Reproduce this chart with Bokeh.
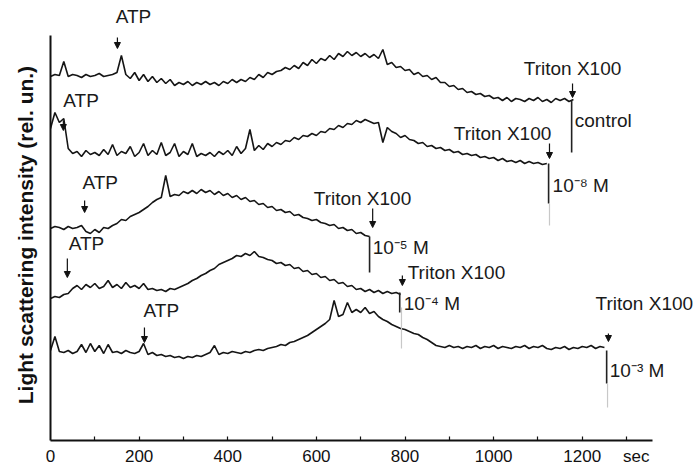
from bokeh.plotting import figure
from bokeh.models import Range1d, FixedTicker, Arrow, NormalHead, ColumnDataSource
from bokeh.embed import file_html
from bokeh.resources import INLINE
from bokeh.core.properties import value

FONT = "Liberation Sans"
sample_step = 10  # seconds between samples

# ---- traces (relative light-scattering units), sampled every 10 s from t = 0 ----
y_control = [364, 366, 365, 379, 364, 366, 365, 363, 366, 364, 365, 367, 364, 365, 366, 368,
             385,
             366, 362, 368, 360, 366, 359, 364, 358, 362, 357, 361, 355, 358, 356, 359, 355, 358, 356,
             359, 356, 358, 355, 359, 357, 361, 358, 361, 359, 363,
             361, 366, 363, 368, 366, 369, 370, 373, 371, 375, 372, 378, 375, 381, 377, 382, 380, 385, 381,
             387, 384, 389, 385, 388, 384, 387, 383, 386, 382, 391,
             376, 378, 373, 374, 370, 371, 366, 368, 364, 365, 361, 363, 358, 358, 354, 355, 351, 352, 348,
             349, 346, 347, 344, 345, 342, 343, 340, 343, 339, 342, 341, 339, 342, 340, 343, 339, 341, 338,
             342, 340, 342, 339, 341]
y_1e8 = [312, 328, 318, 322, 292, 287, 289, 284, 290, 286, 288, 285, 291, 286, 296, 285, 289, 287, 294, 284,
         288, 297, 285, 290, 286, 298, 285, 288, 297, 284, 289, 286, 297, 284, 287, 285, 288, 284, 289, 286,
         290, 285, 294, 287, 292, 311, 290, 295, 291, 297, 294, 298, 296, 300, 299, 303, 301, 305, 304, 307,
         305, 309, 308, 312, 311, 315, 313, 317, 316, 320, 318, 321, 319, 317, 318, 298, 313, 309, 307, 303,
         305, 301, 300, 297, 298, 294, 295, 292, 293, 290, 291, 288, 289, 286, 287, 285, 286, 283, 284, 282,
         283, 280, 282, 279, 280, 278, 280, 277, 279, 277, 278, 276, 277]
y_1e5 = [212, 214, 213, 211, 214, 212, 213, 215, 209, 207, 211, 208, 213, 212, 215, 217, 221, 220, 224, 226,
         228, 231, 234, 238, 241, 243, 265, 244, 246, 245, 249, 247, 250, 247, 251, 248, 250, 246, 249, 245,
         247, 243, 245, 241, 243, 239, 240, 236, 237, 233, 234, 230, 231, 228, 229, 225, 226, 223, 222, 220,
         221, 218, 217, 215, 216, 212, 213, 210, 211, 207, 208, 205, 204]
y_1e4 = [142, 144, 143, 146, 147, 152, 155, 151, 156, 153, 157, 152, 154, 160, 153, 156, 152, 158, 153, 155,
         152, 157, 151, 152, 150, 151, 149, 152, 151, 153, 155, 157, 160, 162, 165, 167, 170, 172, 176, 178,
         180, 182, 185, 184, 187, 185, 189, 184, 183, 181, 180, 177, 178, 175, 176, 172, 173, 169, 170, 166,
         167, 163, 164, 160, 161, 157, 158, 154, 155, 151, 152, 149, 151, 148, 150, 147, 149, 147, 148, 146]
y_1e3 = [90, 104, 89, 88, 90, 87, 89, 96, 88, 97, 89, 95, 87, 96, 88, 89, 87, 90, 88, 87,
         89, 97, 86, 88, 85, 86, 84, 85, 83, 84, 82, 84, 83, 85, 84, 86, 88, 95, 86, 88,
         87, 89, 88, 87, 89, 88, 90, 91, 90, 92, 93, 94, 96, 95, 98, 99, 101, 103, 105, 108,
         111, 114, 117, 121, 140, 124, 126, 138, 128, 131, 128, 133, 127, 129, 124, 121, 119, 116, 114, 112,
         111, 109, 107, 106, 103, 101, 98, 95, 94, 93, 95, 93, 94, 92, 94, 93, 95, 92, 94, 93,
         95, 92, 94, 93, 92, 94, 93, 95, 92, 94, 93, 95, 92, 91, 93, 92, 94, 91, 93, 92,
         94, 93, 95, 92, 94, 93]
traces = [y_control, y_1e8, y_1e5, y_1e4, y_1e3]

# ---- annotations ----
conc_labels = ["control", "10\u207b\u2078 M", "10\u207b\u2075 M", "10\u207b\u2074 M", "10\u207b\u00b3 M"]
x_ticks = [0, 200, 400, 600, 800, 1000, 1200]
x_minor = [100, 300, 500, 700, 900, 1100, 1300]
x_unit_pos = 1322
x_unit_label = "sec"

atp_arrow = [(151, 403, 392), (29, 320, 310), (77, 240, 228), (38, 182, 163), (212, 113, 98)]
atp_text = [(147, 424), (29, 340), (72, 258), (41, 197), (210, 130)]
triton_arrow = [(1178, 357, 343), (1126, 297, 282), (727, 232, 213), (794, 165, 155), (1259, 107, 99)]
triton_text = [(1068, 372), (910, 307), (594, 242), (806, 168), (1230, 137)]
conc_line = [(1176, 340, 288), (1124, 277, 237), (720, 204, 168), (788, 148, 128), (1255, 90, 57)]
conc_text = [(1183, 320), (1133, 255), (727, 193), (797, 137), (1262, 70)]
faint_line = [(1126, 237, 215), (792, 133, 92), (1257, 57, 33)]

p = figure(width=697, height=468, output_backend="svg", toolbar_location=None,
           x_range=Range1d(0, 1460), y_range=Range1d(0, 440),
           min_border_left=50, min_border_right=0, min_border_top=0, min_border_bottom=28)
p.outline_line_color = None
p.xgrid.visible = False
p.ygrid.visible = False
p.background_fill_color = "white"

for ys in traces:
    ts = [sample_step * i for i in range(len(ys))]
    p.line(ts, ys, line_color="#151515", line_width=1.6)

# vertical markers
for (x, y0, y1) in conc_line:
    p.segment(x, y0, x, y1, line_color="#222", line_width=1.6)
for (x, y0, y1) in faint_line:
    p.segment(x, y0, x, y1, line_color="#c8c8c8", line_width=1.2)

def arrow(x, y0, y1):
    p.add_layout(Arrow(end=NormalHead(size=6, fill_color="#111", line_color="#111", line_width=1),
                       x_start=x, y_start=y0, x_end=x, y_end=y1,
                       line_color="#111", line_width=1.2))

for (x, y0, y1) in atp_arrow + triton_arrow:
    arrow(x, y0, y1)

def texts(items, labels, size="19px"):
    src = ColumnDataSource(dict(x=[a[0] for a in items], y=[a[1] for a in items], t=labels))
    p.text(x="x", y="y", text="t", source=src, text_font=value(FONT), text_font_size=size,
           text_align="left", text_baseline="middle", text_color="#1a1a1a")

texts(atp_text, ["ATP"] * 5)
texts(triton_text, ["Triton X100"] * 5)
texts(conc_text, conc_labels)

# axes
xa = p.xaxis[0]
xa.ticker = FixedTicker(ticks=x_ticks + [x_unit_pos], minor_ticks=x_ticks[1:] + x_minor)
xa.major_label_overrides = {x_unit_pos: x_unit_label}
xa.bounds = (0, 1359)
xa.axis_line_width = 2
xa.axis_line_color = "#111"
xa.major_tick_in = 0
xa.major_tick_out = 0
xa.minor_tick_in = 4
xa.minor_tick_out = 0
xa.minor_tick_line_color = "#111"
xa.minor_tick_line_width = 1.2
xa.major_label_text_font = FONT
xa.major_label_text_font_size = "17px"
xa.major_label_text_color = "#111"
xa.major_label_standoff = 6

ya = p.yaxis[0]
ya.ticker = FixedTicker(ticks=[])
ya.bounds = (0, 405)
ya.axis_line_width = 2
ya.axis_line_color = "#111"
ya.major_tick_in = 0
ya.major_tick_out = 0
ya.minor_tick_in = 0
ya.minor_tick_out = 0
ya.axis_label = "Light scattering intensity (rel. un.)" + "\u00a0" * 5
ya.axis_label_text_font = FONT
ya.axis_label_text_font_style = "bold"
ya.axis_label_text_font_size = "21px"
ya.axis_label_text_color = "#111"
ya.axis_label_standoff = 14

open("out.html", "w").write(file_html(p, INLINE))
